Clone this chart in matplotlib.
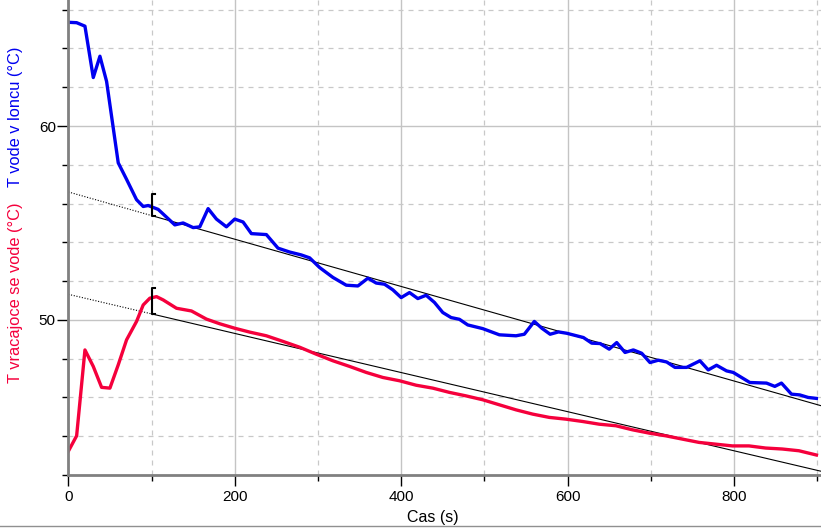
import matplotlib
matplotlib.use("Agg")
import matplotlib.pyplot as plt
from matplotlib.ticker import MultipleLocator
from matplotlib.lines import Line2D
import numpy as np

plt.rcParams['font.family'] = ['Liberation Sans', 'DejaVu Sans']

# --- data -----------------------------------------------------------------
t_blue = [0, 10, 20, 30, 38, 46, 52, 60, 70, 82, 90, 96, 108, 118, 128, 138, 150, 158,
          168, 178, 190, 200, 210, 220, 238, 252, 266, 280, 290, 302, 318, 334, 348,
          360, 370, 380, 390, 400, 410, 420, 430, 440, 450, 460, 470, 480, 498, 518,
          538, 548, 560, 569, 579, 589, 599, 619, 629, 639, 650, 659, 669, 679, 689,
          699, 709, 719, 729, 743, 759, 769, 779, 791, 799, 819, 839, 849, 857, 869,
          879, 889, 899]
T_blue = [65.35, 65.33, 65.15, 62.5, 63.6, 62.3, 60.5, 58.1, 57.25, 56.2, 55.85, 55.9,
          55.7, 55.3, 54.9, 55.0, 54.76, 54.8, 55.74, 55.2, 54.8, 55.2, 55.05, 54.45,
          54.4, 53.7, 53.5, 53.35, 53.2, 52.7, 52.19, 51.79, 51.75, 52.15, 51.9, 51.84,
          51.55, 51.15, 51.41, 51.1, 51.27, 50.9, 50.38, 50.12, 50.03, 49.74, 49.55,
          49.23, 49.18, 49.26, 49.92, 49.57, 49.26, 49.38, 49.31, 49.09, 48.8, 48.78,
          48.49, 48.83, 48.32, 48.45, 48.28, 47.8, 47.92, 47.83, 47.55, 47.55, 47.89,
          47.42, 47.66, 47.37, 47.29, 46.77, 46.74, 46.57, 46.74, 46.17, 46.13, 46.0,
          45.95]

t_red = [0, 10, 20, 30, 40, 50, 60, 70, 82, 90, 98, 106, 114, 130, 148, 166, 182, 200,
         218, 238, 258, 278, 298, 318, 338, 358, 378, 398, 418, 438, 458, 478, 498, 518,
         538, 558, 578, 598, 618, 638, 658, 678, 698, 718, 738, 758, 778, 798, 818, 838,
         858, 878, 899]
T_red = [43.22, 44.02, 48.45, 47.6, 46.52, 46.48, 47.68, 48.97, 49.92, 50.77, 51.12,
         51.2, 51.03, 50.6, 50.46, 50.04, 49.8, 49.57, 49.37, 49.18, 48.89, 48.59, 48.23,
         47.89, 47.6, 47.29, 47.03, 46.86, 46.63, 46.48, 46.26, 46.08, 45.88, 45.62,
         45.36, 45.14, 44.97, 44.88, 44.76, 44.62, 44.54, 44.33, 44.16, 44.02, 43.85,
         43.68, 43.59, 43.5, 43.5, 43.39, 43.34, 43.25, 43.03]

# linear fits (intercept, slope) starting at fit_start
fit_start = 100
fit_end = 905
fit_blue = (56.6, -0.01219)
fit_red = (51.32, -0.01009)

x_label = "Cas (s)"
y_label_blue = "T vode v loncu (°C)"
y_label_red = "T vracajoce se vode (°C)"

BLUE = "#0000f0"
RED = "#f5003c"

# --- figure ---------------------------------------------------------------
fig = plt.figure(figsize=(8.21, 5.28), dpi=100)
ax = fig.add_axes([0.0832, 0.1004, 1 - 0.0832, 1 - 0.1004])
ax.set_xlim(0, 904.5)
ax.set_ylim(42.0, 66.5)

ax.xaxis.set_major_locator(MultipleLocator(200))
ax.xaxis.set_minor_locator(MultipleLocator(100))
ax.yaxis.set_major_locator(MultipleLocator(10))
ax.yaxis.set_minor_locator(MultipleLocator(2))

ax.grid(which='major', color='#c4c4c4', linestyle='-', linewidth=1.0)
ax.grid(which='minor', color='#c8c8c8', linestyle=(0, (4, 4)), linewidth=0.9)
ax.set_axisbelow(True)

for s in ['top', 'right']:
    ax.spines[s].set_visible(False)
for s in ['left', 'bottom']:
    ax.spines[s].set_color('#808080')
    ax.spines[s].set_linewidth(2.0)

ax.tick_params(which='major', length=8, width=1, color='black', labelsize=11, pad=1)
ax.tick_params(which='minor', length=4, width=1, color='black')
ax.tick_params(axis='x', which='major', pad=3)

# fit lines: dotted before fit_start, solid after
for (b, m) in (fit_blue, fit_red):
    xd = np.array([0, fit_start])
    ax.plot(xd, b + m * xd, color='black', linestyle=(0, (1, 1.5)), linewidth=0.8,
            clip_on=False)
    xs = np.array([fit_start, fit_end])
    ax.plot(xs, b + m * xs, color='black', linestyle='-', linewidth=0.8, clip_on=False)

# data lines
ax.plot(t_blue, T_blue, color=BLUE, linewidth=2.4, solid_joinstyle='round')
ax.plot(t_red, T_red, color=RED, linewidth=2.4, solid_joinstyle='round')

# brackets at fit start
for (b, m), dy in ((fit_blue, 1.1), (fit_red, 1.35)):
    y0 = b + m * fit_start
    y1 = y0 + dy
    ax.plot([fit_start + 4, fit_start, fit_start, fit_start + 4], [y1, y1, y0, y0],
            color='black', linewidth=1.5)

ax.set_xlabel(x_label, fontsize=11.5, labelpad=2)
ax.xaxis.set_label_coords(0.4845, -0.073)

fig.text(0.019, 0.779, y_label_blue, color=BLUE, rotation=90, fontsize=11.8,
         ha='center', va='center')
fig.text(0.019, 0.445, y_label_red, color=RED, rotation=90, fontsize=11.8,
         ha='center', va='center')

fig.add_artist(Line2D([0, 1], [0.003, 0.003], color='#909090', linewidth=1.0))

fig.savefig("out.png", dpi=100)
